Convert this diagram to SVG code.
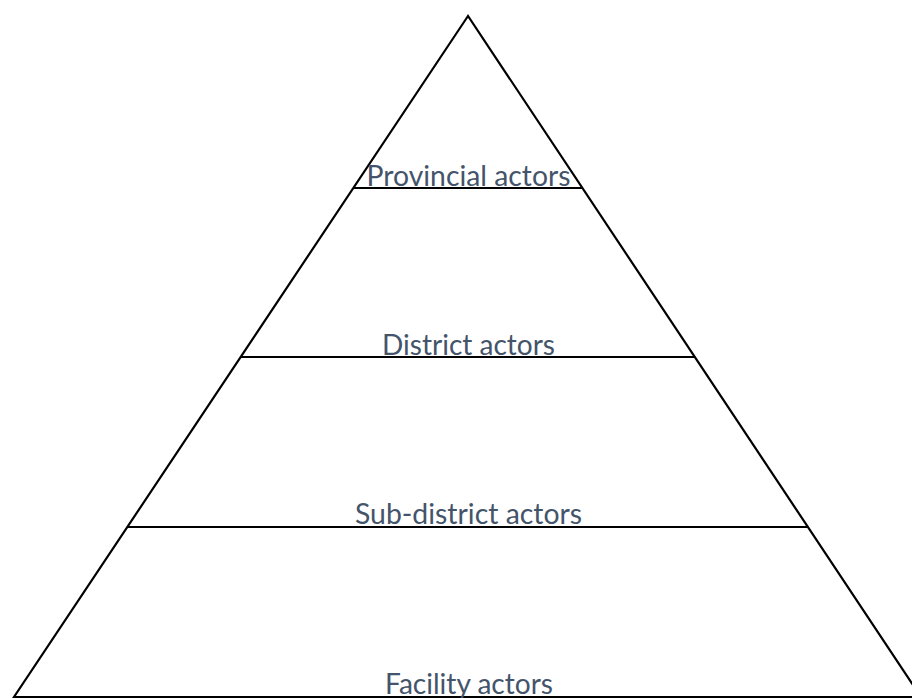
<svg xmlns="http://www.w3.org/2000/svg" width="912" height="698" viewBox="0 0 912 698">
<style>
.edge{stroke:#000;stroke-width:2.2;fill:none;stroke-linejoin:miter}
.lbl{font-family:Lato,"Liberation Sans",sans-serif;font-size:29px;fill:#44546A;text-anchor:middle}
</style>
<rect width="912" height="698" fill="#fff"/>
<g id="connectors">
<polygon class="edge" points="468,16 14,697 921,697"/>
<line class="edge" x1="353" y1="188" x2="582" y2="188"/>
<line class="edge" x1="241" y1="357" x2="695" y2="357"/>
<line class="edge" x1="127" y1="527" x2="808" y2="527"/>
</g>
<g id="provincial"><text class="lbl" x="468.5" y="186" textLength="204" lengthAdjust="spacingAndGlyphs">Provincial actors</text></g>
<g id="district"><text class="lbl" x="468.5" y="355" textLength="173" lengthAdjust="spacingAndGlyphs">District actors</text></g>
<g id="subdistrict"><text class="lbl" x="468.5" y="524" textLength="227" lengthAdjust="spacingAndGlyphs">Sub-district actors</text></g>
<g id="facility"><text class="lbl" x="469" y="694" textLength="168" lengthAdjust="spacingAndGlyphs">Facility actors</text></g>
</svg>
